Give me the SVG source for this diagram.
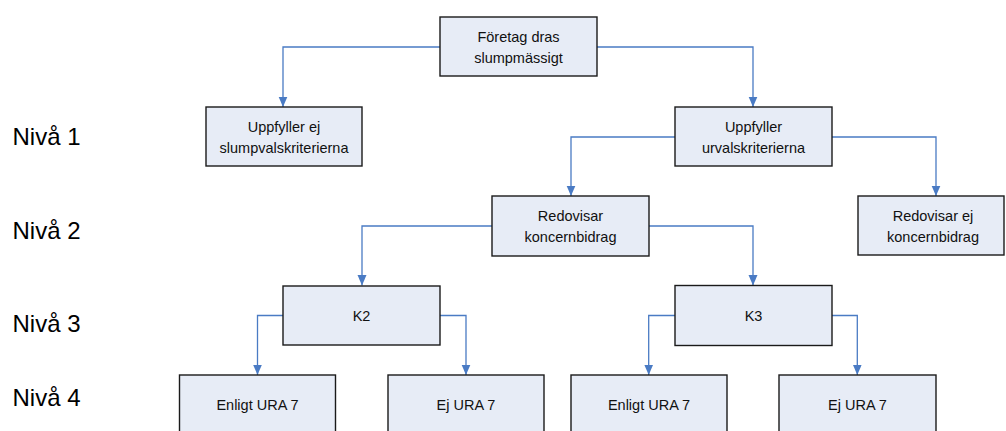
<svg xmlns="http://www.w3.org/2000/svg" width="1006" height="431" viewBox="0 0 1006 431">
<style>
.box{fill:#E7ECF6;stroke:#1a1a1a;stroke-width:1.4}
.t{font-family:"Liberation Sans",Arial,sans-serif;font-size:14.5px;fill:#111;text-anchor:middle}
.lvl{font-family:"Liberation Sans",Arial,sans-serif;font-size:24px;fill:#000}
.c{fill:none;stroke:#4A7BC4;stroke-width:1.3;marker-end:url(#arr)}
</style>
<defs>
<marker id="arr" markerUnits="userSpaceOnUse" markerWidth="11" markerHeight="10" refX="10.5" refY="5" orient="auto">
<path d="M0,0.5 L10.5,5 L0,9.5 z" fill="#4A7BC4"/>
</marker>
</defs>
<rect width="1006" height="431" fill="#fff"/>
<g id="levels">
<text class="lvl" x="12.5" y="145">Nivå 1</text>
<text class="lvl" x="12.5" y="239">Nivå 2</text>
<text class="lvl" x="12.5" y="332">Nivå 3</text>
<text class="lvl" x="12.5" y="406">Nivå 4</text>
</g>
<g id="connectors">
<path class="c" d="M440,47 H283 V107"/>
<path class="c" d="M597,47 H753 V107"/>
<path class="c" d="M675,137 H571 V196"/>
<path class="c" d="M832,137 H936 V196"/>
<path class="c" d="M492,226 H362 V285.5"/>
<path class="c" d="M649,226 H753 V285.5"/>
<path class="c" d="M283,315.5 H257.5 V375"/>
<path class="c" d="M440,315.5 H466 V375"/>
<path class="c" d="M675,315.5 H648.7 V375"/>
<path class="c" d="M832,315.5 H857.3 V375"/>
</g>
<g id="n0"><rect class="box" x="440" y="17" width="157" height="59"/>
<text class="t" x="518.5" y="42">Företag dras</text><text class="t" x="518.5" y="63">slumpmässigt</text></g>
<g id="n1a"><rect class="box" x="206" y="107" width="156" height="59"/>
<text class="t" x="284" y="131.5">Uppfyller ej</text><text class="t" x="284" y="152.5">slumpvalskriterierna</text></g>
<g id="n1b"><rect class="box" x="675" y="107" width="157" height="59"/>
<text class="t" x="753.5" y="131.5">Uppfyller</text><text class="t" x="753.5" y="152.5">urvalskriterierna</text></g>
<g id="n2a"><rect class="box" x="492" y="196" width="157" height="60"/>
<text class="t" x="570.5" y="220.5">Redovisar</text><text class="t" x="570.5" y="241.5">koncernbidrag</text></g>
<g id="n2b"><rect class="box" x="858" y="196" width="146" height="59"/>
<text class="t" x="933" y="220.5">Redovisar ej</text><text class="t" x="933" y="241.5">koncernbidrag</text></g>
<g id="k2"><rect class="box" x="283" y="286" width="157" height="59"/>
<text class="t" x="361.5" y="320.5">K2</text></g>
<g id="k3"><rect class="box" x="675" y="285.5" width="157" height="60"/>
<text class="t" x="753.5" y="320.5">K3</text></g>
<g id="e1"><rect class="box" x="179.5" y="375" width="156" height="60"/>
<text class="t" x="257.5" y="409.5">Enligt URA 7</text></g>
<g id="e2"><rect class="box" x="388" y="375" width="156" height="60"/>
<text class="t" x="466" y="409.5">Ej URA 7</text></g>
<g id="e3"><rect class="box" x="571" y="375" width="156" height="60"/>
<text class="t" x="649" y="409.5">Enligt URA 7</text></g>
<g id="e4"><rect class="box" x="779" y="375" width="157" height="60"/>
<text class="t" x="857.5" y="409.5">Ej URA 7</text></g>
</svg>
